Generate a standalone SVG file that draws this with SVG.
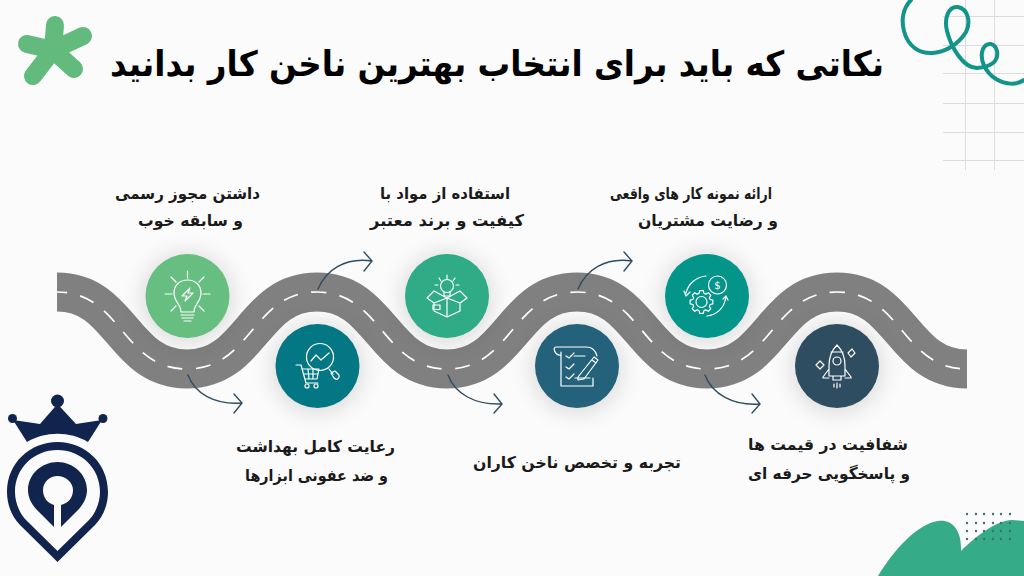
<svg xmlns="http://www.w3.org/2000/svg" width="1024" height="576" viewBox="0 0 1024 576">
<style>
.lbl{font-family:"DejaVu Sans",sans-serif;font-size:16px;font-weight:700;fill:#1a1a1a;text-anchor:middle;direction:rtl}
.ttl{font-family:"DejaVu Sans",sans-serif;font-size:35px;font-weight:700;fill:#000;text-anchor:middle;direction:rtl}
.ic{fill:none;stroke:#fff;stroke-width:1.2;stroke-linecap:round;stroke-linejoin:round}
.arr{fill:none;stroke:#2e4d61;stroke-width:1.4;stroke-linecap:round}
.grid{stroke:#dcdcdc;stroke-width:1;fill:none}
.dot{fill:#3f6f70}
</style>
<defs>
<filter id="sh" x="-60%" y="-60%" width="220%" height="220%"><feGaussianBlur stdDeviation="12"/></filter>
<path id="road" d="M57 292C122 292 122 369 187 369C252 369 252 292 317 292C382 292 382 369 447 369C512 369 512 292 577 292C642 292 642 369 707 369C772 369 772 292 837 292C902 292 902 369 967 369"/>
</defs>
<rect width="1024" height="576" fill="#fbfbfb"/>
<g id="grid-decor" class="grid">
<path d="M965.500 0V170M994.500 0V170M943 16.500H1024M943 45.500H1024M943 73.500H1024M943 103.500H1024M943 132.500H1024M943 160.500H1024"/>
</g>
<path id="swirl" d="M911 0C903 8 901 20 904 31C908 47 920 54 933 53C945 52 958 45 966 32C971 22 968 9 958 7C948 6 944 19 947 31C951 47 963 68 977 68C990 67 999 62 997 51C995 43 987 41 983 49C979 59 985 72 996 79C1006 85 1017 85 1024 80" fill="none" stroke="#12948a" stroke-width="4" stroke-linecap="round"/>
<path id="star" d="M53 50L55 25M53 50L83 36M53 50L74 69M53 50L33 76M53 50L27 44" fill="none" stroke="#62bb7d" stroke-width="18" stroke-linecap="round"/>
<text class="ttl" x="497" y="76" textLength="774" lengthAdjust="spacingAndGlyphs">نکاتی که باید برای انتخاب بهترین ناخن کار بدانید</text>
<g id="road-group">
<use href="#road" fill="none" stroke="#808080" stroke-width="39"/>
<use href="#road" fill="none" stroke="#fff" stroke-width="1.700" stroke-dasharray="15 13.500" stroke-dashoffset="5"/>
</g>
<g id="connectors">
<path class="arr" d="M188 375C195 394 215 405 242 403M234 394L242 403L234 413"/>
<path class="arr" d="M318 289C326 270 345 257 372 261M364 252L372 261L364 271"/>
<path class="arr" d="M448 375C455 394 475 405 502 404M494 394L502 404L494 413"/>
<path class="arr" d="M578 289C586 270 605 257 632 261M624 252L632 261L624 271"/>
<path class="arr" d="M705 375C712 394 733 406 760 404M752 394L760 404L752 413"/>
</g>
<g id="node1">
<circle cx="187.500" cy="298" r="44" fill="#000" opacity=".14" filter="url(#sh)"/>
<circle cx="187.500" cy="296" r="42" fill="#66be80"/>
<g class="ic"><path d="M187.500 271V278M171 277L176 282M204 277L199 282M165 294H172M203 294H210M171 311L176 306M204 311L199 306"/>
<path d="M181 312C181 304 174 302 174 293C174 285 180 280 187.500 280C195 280 201 285 201 293C201 302 194 304 194 312Z"/>
<path d="M181 315H194M182 318H193M184 321C185 321 190 321 191 321"/><path d="M190 288L182 296H187L185 301L193 293H188Z"/></g>
</g>
<g id="node2">
<circle cx="317.500" cy="368" r="44" fill="#000" opacity=".14" filter="url(#sh)"/>
<circle cx="317.500" cy="366" r="42" fill="#037884"/>
<g class="ic"><circle cx="320" cy="357" r="13.500"/><path d="M311 361L316 355L321 360L329 353M329 369L333 374"/><path d="M331 373L335 371L339 375C340 378 337 381 334 378Z"/>
<path d="M296 365H301L306 383H318M302 369H319L317 379H305M304 374H318M308 369L309 379M313 369V379"/><circle cx="307" cy="386" r="2"/><circle cx="316" cy="386" r="2"/></g>
</g>
<g id="node3">
<circle cx="447" cy="298" r="44" fill="#000" opacity=".14" filter="url(#sh)"/>
<circle cx="447" cy="296" r="42" fill="#2fab86"/>
<g class="ic"><path d="M447 275V279M439 278L441 281M455 278L453 281M435 285H438M459 285H456"/><circle cx="447" cy="286" r="6.500"/><path d="M444 292V296H450V292"/>
<path d="M447 298L434 291L427 298L434 303L447 298L460 291L467 298L460 303L447 298M434 303V311L447 317L460 311V303M447 298V317"/><rect x="433" y="305" width="7" height="4.500"/></g>
</g>
<g id="node4">
<circle cx="577" cy="368" r="44" fill="#000" opacity=".14" filter="url(#sh)"/>
<circle cx="577" cy="366" r="42" fill="#23627a"/>
<g class="ic"><path d="M556 347H586C593 347 596 352 597 356M556 347C552 347 555 356 561 355M561 352V386H593V378M574 356H585"/>
<path d="M566 356L569 358L574 353M566 367L569 369L574 364M566 377L569 379L574 374"/>
<path d="M578 377L594 357L598 360L584 379L578 380ZM592 360L596 363M575 378H590"/></g>
</g>
<g id="node5">
<circle cx="707" cy="298" r="44" fill="#000" opacity=".14" filter="url(#sh)"/>
<circle cx="707" cy="296" r="42" fill="#03958a"/>
<g class="ic"><circle cx="717.500" cy="285" r="9"/><path d="M706 276C696 277 688 284 686 293M684 291L686 296L690 292M707 316C716 315 724 309 726 297M723 299L726 296L728 300"/>
<path transform="translate(701.500 302)" d="M8.650 -2.480L11.360 -1.800L11.360 1.800L8.650 2.480L7.870 4.360L9.300 6.760L6.760 9.300L4.360 7.870L2.480 8.650L1.800 11.360L-1.800 11.360L-2.480 8.650L-4.360 7.870L-6.760 9.300L-9.300 6.760L-7.870 4.360L-8.650 2.480L-11.360 1.800L-11.360 -1.800L-8.650 -2.480L-7.870 -4.360L-9.300 -6.760L-6.760 -9.300L-4.360 -7.870L-2.480 -8.650L-1.800 -11.360L1.800 -11.360L2.480 -8.650L4.360 -7.870L6.760 -9.300L9.300 -6.760L7.870 -4.360Z"/>
<circle cx="701.500" cy="302" r="5.500"/></g>
<text x="717.500" y="289" font-family="DejaVu Sans,sans-serif" font-size="10" fill="#fff" text-anchor="middle">$</text>
</g>
<g id="node6">
<circle cx="837" cy="368" r="44" fill="#000" opacity=".14" filter="url(#sh)"/>
<circle cx="837" cy="366" r="42" fill="#2e4d61"/>
<g class="ic"><path d="M837 345C831 351 829 358 829 366V376H845V366C845 358 843 351 837 345ZM831 352H843M829 369L823 377V378H829M845 369L851 377V378H845M833 376V380H841V376M834 384V387M837 383V388M840 384V387"/><circle cx="837" cy="361" r="4"/>
<path d="M852 349L855 353L851 357L848 353ZM820 361L824 365L820 369L816 365Z"/></g>
</g>
<g id="labels">
<text class="lbl" x="187.500" y="199" textLength="145" lengthAdjust="spacingAndGlyphs">داشتن مجوز رسمی</text>
<text class="lbl" x="190.500" y="226" textLength="105" lengthAdjust="spacingAndGlyphs">و سابقه خوب</text>
<text class="lbl" x="445" y="199" textLength="130" lengthAdjust="spacingAndGlyphs">استفاده از مواد با</text>
<text class="lbl" x="447" y="226" textLength="154" lengthAdjust="spacingAndGlyphs">کیفیت و برند معتبر</text>
<text class="lbl" x="691" y="199" textLength="162" lengthAdjust="spacingAndGlyphs">ارائه نمونه کار های واقعی</text>
<text class="lbl" x="708" y="226" textLength="140" lengthAdjust="spacingAndGlyphs">و رضایت مشتریان</text>
<text class="lbl" x="315.500" y="452" textLength="159" lengthAdjust="spacingAndGlyphs">رعایت کامل بهداشت</text>
<text class="lbl" x="316.500" y="481" textLength="143" lengthAdjust="spacingAndGlyphs">و ضد عفونی ابزارها</text>
<text class="lbl" x="577" y="468" textLength="208" lengthAdjust="spacingAndGlyphs">تجربه و تخصص ناخن کاران</text>
<text class="lbl" x="828" y="450" textLength="160" lengthAdjust="spacingAndGlyphs">شفافیت در قیمت ها</text>
<text class="lbl" x="829" y="479" textLength="162" lengthAdjust="spacingAndGlyphs">و پاسخگویی حرفه ای</text>
</g>
<g id="logo" fill="#10244d">
<circle cx="57.500" cy="401" r="6.500"/><circle cx="12.500" cy="418.500" r="4.500"/><circle cx="103" cy="418.500" r="4.500"/>
<path d="M57.500 404L76 424L102 420L88 442C70 431 45 431 27 442L13 420L40 424Z"/>
<path fill-rule="evenodd" d="M57.500 442C30 442 7 463 7 492C7 505 12 517 20 525L57.500 562L95 525C103 517 108 505 108 492C108 463 85 442 57.500 442ZM57.500 450C81 450 100 468 100 492C100 503 95 514 89 520L57.500 551L26 520C20 514 15 503 15 492C15 468 34 450 57.500 450Z"/>
<path fill-rule="evenodd" d="M54 527L36 509C31 503 28 497 28 490C28 474 42 462 57.500 462C73 462 87 474 87 490C87 497 84 503 79 509L61 527V505C69 503 73 497 73 490C73 482 65 476 57.500 476C50 476 43 482 43 490C43 497 47 503 54 505Z"/>
</g>
<g id="corner">
<path d="M878 576C895 548 918 524 938 521C952 519 962 530 961 551C975 537 995 521 1012 520L1024 521V576Z" fill="#35ab87"/>
<g class="dot"><circle cx="967" cy="514" r="1.200"/><circle cx="976" cy="514" r="1.200"/><circle cx="984" cy="514" r="1.200"/><circle cx="993" cy="514" r="1.200"/><circle cx="1001" cy="514" r="1.200"/><circle cx="1010" cy="514" r="1.200"/><circle cx="967" cy="523" r="1.200"/><circle cx="976" cy="523" r="1.200"/><circle cx="984" cy="523" r="1.200"/><circle cx="993" cy="523" r="1.200"/><circle cx="1001" cy="523" r="1.200"/><circle cx="1010" cy="523" r="1.200"/><circle cx="967" cy="531" r="1.200"/><circle cx="976" cy="531" r="1.200"/><circle cx="984" cy="531" r="1.200"/><circle cx="993" cy="531" r="1.200"/><circle cx="1001" cy="531" r="1.200"/><circle cx="1010" cy="531" r="1.200"/><circle cx="967" cy="539" r="1.200"/><circle cx="976" cy="539" r="1.200"/><circle cx="984" cy="539" r="1.200"/><circle cx="993" cy="539" r="1.200"/><circle cx="1001" cy="539" r="1.200"/><circle cx="1010" cy="539" r="1.200"/></g>
</g>
</svg>
